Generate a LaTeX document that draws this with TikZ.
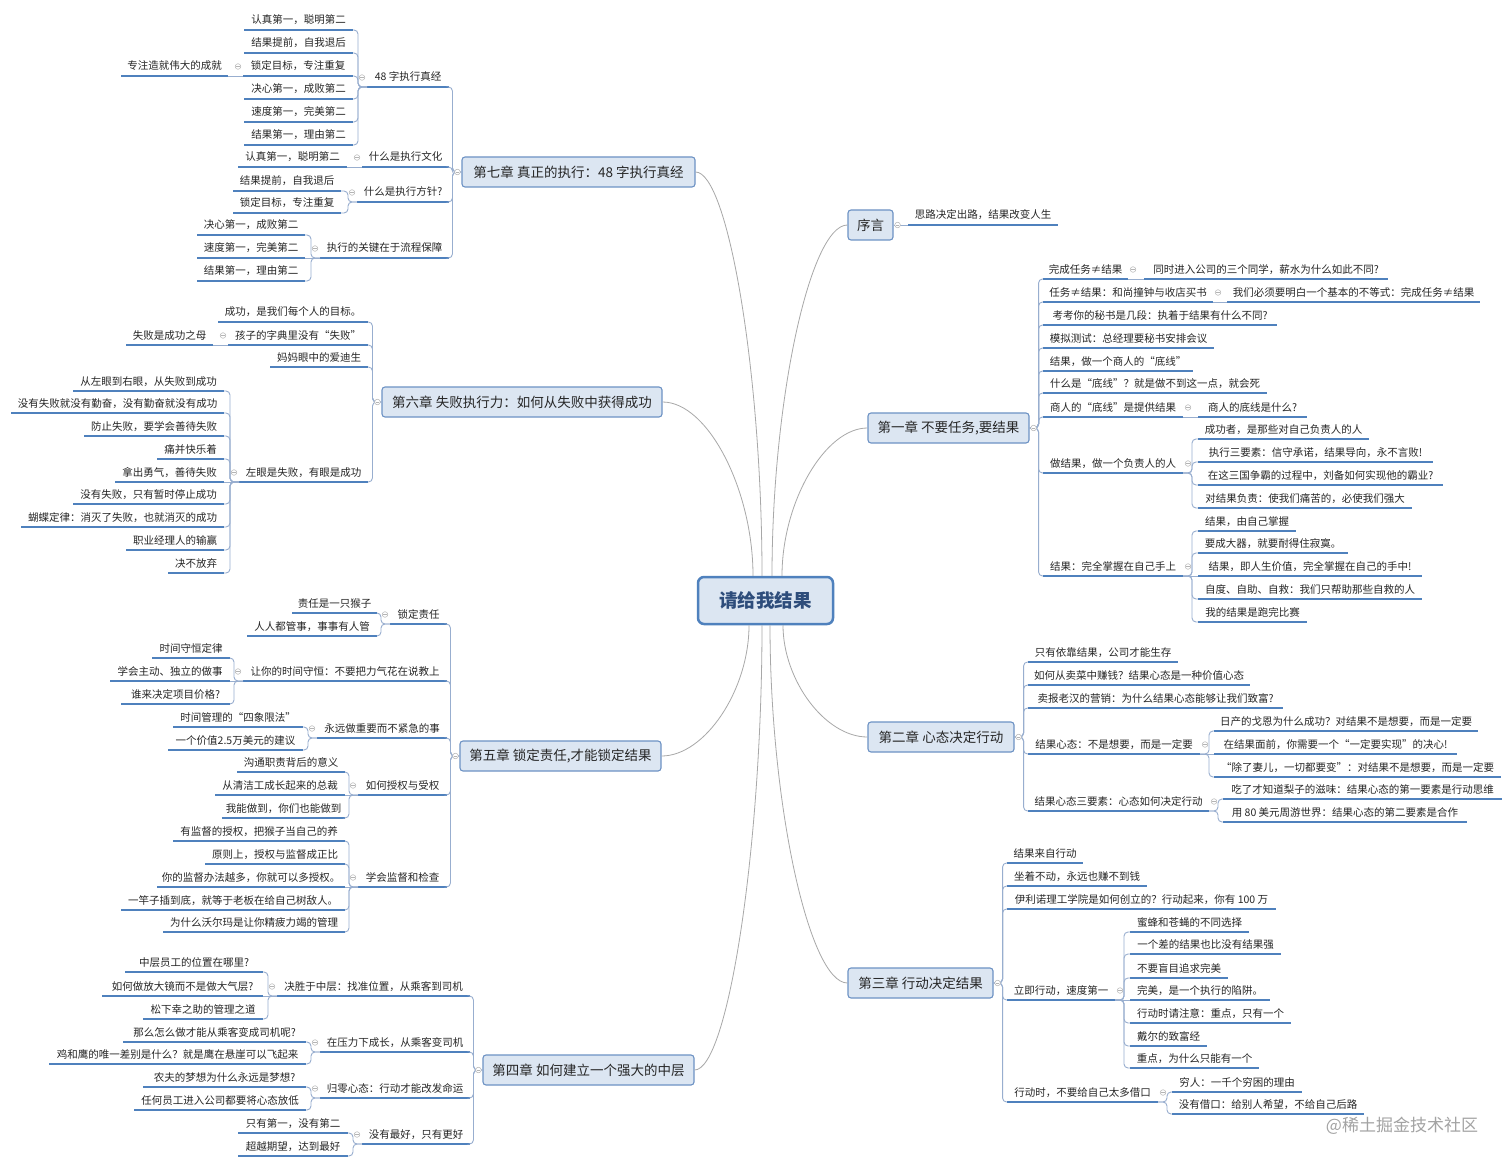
\documentclass[tikz,border=0pt]{standalone}
\usepackage{fontspec}
\setmainfont{Noto Sans CJK SC}
\usetikzlibrary{calc}
\definecolor{ulinec}{HTML}{4F81BD}
\definecolor{connc}{HTML}{98AECF}
\definecolor{mainc}{HTML}{A8A8A8}
\definecolor{boxfill}{HTML}{DCE6F2}
\definecolor{boxdraw}{HTML}{6D92C4}
\definecolor{rootdraw}{HTML}{4F81BD}
\definecolor{roottext}{HTML}{2E4D7B}
\definecolor{txt}{HTML}{262626}
\definecolor{collc}{HTML}{B4B4B4}
\definecolor{wmc}{HTML}{A3A3A3}
\newcommand\leaffont{\fontsize{10.5}{12}\selectfont}
\newcommand\chapfont{\fontsize{13.5}{16}\selectfont}
\newcommand\rootfont{\fontsize{18.5}{22}\selectfont\bfseries}
\tikzset{
  leaf/.style={font=\leaffont, text=txt, inner xsep=4pt, inner ysep=4.5pt,
    text height=8.5pt, text depth=1.5pt, outer sep=0pt, anchor=south},
  uline/.style={draw=ulinec, line width=1.5pt},
  chap/.style={draw=boxdraw, fill=boxfill, line width=1.1pt, rounded corners=3pt,
    minimum height=30pt, inner xsep=6pt, font=\chapfont, text=txt},
  rootbox/.style={draw=rootdraw, fill=boxfill, line width=2.5pt, rounded corners=6pt,
    minimum width=135pt, minimum height=47pt, font=\rootfont, text=roottext},
  conn/.style={draw=connc, line width=0.9pt, rounded corners=4pt},
  mainline/.style={draw=mainc, line width=0.8pt},
  coll/.style={draw=collc, fill=white, line width=0.5pt},
  collm/.style={draw=collc, line width=0.5pt},
  wmark/.style={font=\fontsize{17}{20}\selectfont, text=wmc}
}
\newcommand\mmleaf[5]{%
  \pgfmathsetmacro\mmlw{#3-#2}%
  \pgfmathsetmacro\mmlx{(#2+#3)/2}%
  \node[leaf, minimum width=\mmlw pt] (#1) at (\mmlx,#4) {#5};
  \draw[uline] (#1.south west) -- (#1.south east);
}
\newcommand\mmchap[5]{%
  \pgfmathsetmacro\mmlw{#3-#2}%
  \pgfmathsetmacro\mmlx{(#2+#3)/2}%
  \node[chap, minimum width=\mmlw pt] (#1) at (\mmlx,#4) {#5};
}
\newcommand\mmkl[2]{\draw[conn] (#2.south east) -| ([xshift=-9pt]#1) -- (#1);}
\newcommand\mmkr[2]{\draw[conn] (#2.south west) -| ([xshift=9pt]#1) -- (#1);}
\newcommand\mmks[2]{\draw[conn] (#2) -- (#1);}
\newcommand\mmol[2]{\draw[coll] ([xshift=-#2]#1.west) circle[radius=2.8pt];
  \draw[collm] ([xshift=-#2-1.6pt]#1.west) -- ([xshift=-#2+1.6pt]#1.west);}
\newcommand\mmor[2]{\draw[coll] ([xshift=#2]#1.east) circle[radius=2.8pt];
  \draw[collm] ([xshift=#2-1.6pt]#1.east) -- ([xshift=#2+1.6pt]#1.east);}
\begin{document}
\begin{tikzpicture}[x=1pt,y=-1pt]
\useasboundingbox (0,0) rectangle (1512,1166);
\fill[white] (0,0) rectangle (1512,1166);

% root
\node[rootbox] (root) at (765.5,600.5) {请给我结果};

% chapters
\mmchap{ch7}{462}{695}{172}{第七章 真正的执行：48 字执行真经}
\mmchap{ch6}{382}{662}{402}{第六章 失败执行力：如何从失败中获得成功}
\mmchap{ch5}{460}{661}{756}{第五章 锁定责任,才能锁定结果}
\mmchap{ch4}{483}{694}{1070}{第四章 如何建立一个强大的中层}
\mmchap{ch0}{848}{893}{225}{序言}
\mmchap{ch1}{868}{1029}{428}{第一章 不要任务,要结果}
\mmchap{ch2}{868}{1014}{737}{第二章 心态决定行动}
\mmchap{ch3}{848}{993}{983}{第三章 行动决定结果}

% chapter 7
\mmleaf{a1}{367}{449}{87}{48 字执行真经}
\mmleaf{a11}{244}{353}{30}{认真第一，聪明第二}
\mmleaf{a12}{244}{353}{53}{结果提前，自我退后}
\mmleaf{a13}{243}{353}{76}{锁定目标，专注重复}
\mmleaf{a131}{121}{228}{76}{专注造就伟大的成就}
\mmleaf{a14}{244}{353}{99}{决心第一，成败第二}
\mmleaf{a15}{244}{353}{122}{速度第一，完美第二}
\mmleaf{a16}{244}{353}{145}{结果第一，理由第二}
\mmleaf{a2}{362}{449}{167}{什么是执行文化}
\mmleaf{a21}{238}{347}{167}{认真第一，聪明第二}
\mmleaf{a3}{357}{449}{202}{什么是执行方针?}
\mmleaf{a31}{233}{341}{191}{结果提前，自我退后}
\mmleaf{a32}{233}{341}{213}{锁定目标，专注重复}
\mmleaf{a4}{320}{449}{258}{执行的关键在于流程保障}
\mmleaf{a41}{197}{305}{235}{决心第一，成败第二}
\mmleaf{a42}{197}{305}{258}{速度第一，完美第二}
\mmleaf{a43}{197}{305}{281}{结果第一，理由第二}

% chapter 6
\mmleaf{b1}{218}{368}{322}{成功，是我们每个人的目标。}
\mmleaf{b2}{228}{368}{345}{孩子的字典里没有“失败”}
\mmleaf{b21}{126}{213}{345}{失败是成功之母}
\mmleaf{b3}{270}{368}{367}{妈妈眼中的爱迪生}
\mmleaf{b4}{239}{368}{482}{左眼是失败，有眼是成功}
\mmleaf{b41}{73}{224}{391}{从左眼到右眼，从失败到成功}
\mmleaf{b42}{11}{224}{413}{没有失败就没有勤奋，没有勤奋就没有成功}
\mmleaf{b43}{84}{224}{436}{防止失败，要学会善待失败}
\mmleaf{b44}{157}{224}{459}{痛并快乐着}
\mmleaf{b45}{115}{224}{482}{拿出勇气，善待失败}
\mmleaf{b46}{73}{224}{504}{没有失败，只有暂时停止成功}
\mmleaf{b47}{21}{224}{527}{蝴蝶定律：消灭了失败，也就消灭的成功}
\mmleaf{b48}{126}{224}{550}{职业经理人的输赢}
\mmleaf{b49}{168}{224}{573}{决不放弃}

% chapter 5
\mmleaf{c1}{390}{447}{624}{锁定责任}
\mmleaf{c11}{292}{377}{613}{责任是一只猴子}
\mmleaf{c12}{247}{377}{636}{人人都管事，事事有人管}
\mmleaf{c2}{243}{447}{681}{让你的时间守恒：不要把力气花在说教上}
\mmleaf{c21}{152}{230}{658}{时间守恒定律}
\mmleaf{c22}{110}{230}{681}{学会主动、独立的做事}
\mmleaf{c23}{121}{230}{704}{谁来决定项目价格?}
\mmleaf{c3}{317}{447}{738}{永远做重要而不紧急的事}
\mmleaf{c31}{173}{303}{727}{时间管理的“四象限法”}
\mmleaf{c32}{168}{303}{750}{一个价值2.5万美元的建议}
\mmleaf{c4}{358}{447}{795}{如何授权与受权}
\mmleaf{c41}{237}{345}{772}{沟通职责背后的意义}
\mmleaf{c42}{215}{345}{795}{从清洁工成长起来的总裁}
\mmleaf{c43}{222}{345}{818}{我能做到，你们也能做到}
\mmleaf{c5}{358}{447}{887}{学会监督和检查}
\mmleaf{c51}{173}{345}{841}{有监督的授权，把猴子当自己的养}
\mmleaf{c52}{205}{345}{864}{原则上，授权与监督成正比}
\mmleaf{c53}{157}{345}{887}{你的监督办法越多，你就可以多授权。}
\mmleaf{c54}{121}{345}{910}{一竿子插到底，就等于老板在给自己树敌人。}
\mmleaf{c55}{163}{345}{932}{为什么沃尔玛是让你精疲力竭的管理}

% chapter 4
\mmleaf{d1}{277}{470}{996}{决胜于中层：找准位置，从乘客到司机}
\mmleaf{d11}{125}{263}{972}{中层员工的位置在哪里?}
\mmleaf{d12}{102}{263}{996}{如何做放大镜而不是做大气层?}
\mmleaf{d13}{143}{263}{1019}{松下幸之助的管理之道}
\mmleaf{d2}{320}{470}{1052}{在压力下成长，从乘客变司机}
\mmleaf{d21}{123}{306}{1042}{那么怎么做才能从乘客变成司机呢?}
\mmleaf{d22}{49}{306}{1064}{鸡和鹰的唯一差别是什么？就是鹰在悬崖可以飞起来}
\mmleaf{d3}{320}{470}{1098}{归零心态：行动才能改发命运}
\mmleaf{d31}{143}{306}{1087}{农夫的梦想为什么永远是梦想?}
\mmleaf{d32}{134}{306}{1110}{任何员工进入公司都要将心态放低}
\mmleaf{d4}{362}{470}{1144}{没有最好，只有更好}
\mmleaf{d41}{238}{348}{1133}{只有第一，没有第二}
\mmleaf{d42}{238}{348}{1156}{超越期望，达到最好}

% preface
\mmleaf{e1}{908}{1058}{225}{思路决定出路，结果改变人生}

% chapter 1
\mmleaf{f1}{1043}{1128}{279}{完成任务≠结果}
\mmleaf{f11}{1144}{1388}{279}{同时进入公司的三个同学，薪水为什么如此不同?}
\mmleaf{f2}{1043}{1213}{302}{任务≠结果：和尚撞钟与收店买书}
\mmleaf{f21}{1227}{1480}{302}{我们必须要明白一个基本的不等式：完成任务≠结果}
\mmleaf{f3}{1043}{1277}{325}{考考你的秘书是几段：执着于结果有什么不同?}
\mmleaf{f4}{1043}{1214}{348}{模拟测试：总经理要秘书安排会议}
\mmleaf{f5}{1043}{1193}{371}{结果，做一个商人的“底线”}
\mmleaf{f6}{1043}{1267}{393}{什么是“底线”？就是做不到这一点，就会死}
\mmleaf{f7}{1043}{1183}{417}{商人的“底线”是提供结果}
\mmleaf{f71}{1198}{1307}{417}{商人的底线是什么?}
\mmleaf{f8}{1043}{1183}{473}{做结果，做一个负责人的人}
\mmleaf{f81}{1198}{1369}{439}{成功者，是那些对自己负责人的人}
\mmleaf{f82}{1198}{1433}{462}{执行三要素：信守承诺，结果导向，永不言败!}
\mmleaf{f83}{1198}{1443}{485}{在这三国争霸的过程中，刘备如何实现他的霸业?}
\mmleaf{f84}{1198}{1412}{508}{对结果负责：使我们痛苦的，必使我们强大}
\mmleaf{f9}{1043}{1183}{576}{结果：完全掌握在自己手上}
\mmleaf{f91}{1198}{1296}{531}{结果，由自己掌握}
\mmleaf{f92}{1198}{1348}{553}{要成大器，就要耐得住寂寞。}
\mmleaf{f93}{1198}{1422}{576}{结果，即人生价值，完全掌握在自己的手中!}
\mmleaf{f94}{1198}{1422}{599}{自度、自助、自救：我们只帮助那些自救的人}
\mmleaf{f95}{1198}{1307}{622}{我的结果是跑完比赛}

% chapter 2
\mmleaf{g1}{1028}{1178}{662}{只有依靠结果，公司才能生存}
\mmleaf{g2}{1028}{1250}{685}{如何从卖菜中赚钱？结果心态是一种价值心态}
\mmleaf{g3}{1028}{1283}{708}{卖报老汉的营销：为什么结果心态能够让我们致富?}
\mmleaf{g4}{1028}{1200}{754}{结果心态：不是想要，而是一定要}
\mmleaf{g41}{1214}{1478}{731}{日产的戈恩为什么成功？对结果不是想要，而是一定要}
\mmleaf{g42}{1214}{1457}{754}{在结果面前，你需要一个“一定要实现”的决心!}
\mmleaf{g43}{1214}{1501}{777}{“除了妻儿，一切都要变”：对结果不是想要，而是一定要}
\mmleaf{g5}{1028}{1209}{811}{结果心态三要素：心态如何决定行动}
\mmleaf{g51}{1223}{1502}{799}{吃了才知道梨子的滋味：结果心态的第一要素是行动思维}
\mmleaf{g52}{1223}{1467}{822}{用 80 美元周游世界：结果心态的第二要素是合作}

% chapter 3
\mmleaf{h1}{1007}{1083}{863}{结果来自行动}
\mmleaf{h2}{1007}{1147}{886}{坐着不动，永远也赚不到钱}
\mmleaf{h3}{1007}{1276}{909}{伊利诺理工学院是如何创立的？行动起来，你有 100 万}
\mmleaf{h4}{1007}{1115}{1000}{立即行动，速度第一}
\mmleaf{h41}{1130}{1249}{932}{蜜蜂和苍蝇的不同选择}
\mmleaf{h42}{1130}{1281}{954}{一个差的结果也比没有结果强}
\mmleaf{h43}{1130}{1228}{978}{不要盲目追求完美}
\mmleaf{h44}{1130}{1270}{1000}{完美，是一个执行的陷阱。}
\mmleaf{h45}{1130}{1291}{1023}{行动时请注意：重点，只有一个}
\mmleaf{h46}{1130}{1207}{1046}{戴尔的致富经}
\mmleaf{h47}{1130}{1259}{1068}{重点，为什么只能有一个}
\mmleaf{h5}{1007}{1158}{1102}{行动时，不要给自己太多借口}
\mmleaf{h51}{1172}{1302}{1092}{穷人：一千个穷困的理由}
\mmleaf{h52}{1172}{1364}{1114}{没有借口：给别人希望，不给自己后路}

% watermark
\node[wmark] (wm) at (1402,1126) {@稀土掘金技术社区};

% root to chapters
\draw[mainline] ([xshift=-3.5pt]root.north) .. controls (762,374) and (728,172) .. (ch7.east);
\draw[mainline] ([xshift=-12.5pt]root.north) .. controls (753,490) and (708,402) .. (ch6.east);
\draw[mainline] ([xshift=6.5pt]root.north) .. controls (772,401) and (810,225) .. (ch0.west);
\draw[mainline] ([xshift=16.5pt]root.north) .. controls (782,502) and (825,428) .. (ch1.west);
\draw[mainline] ([xshift=-16.5pt]root.south) .. controls (749,690) and (705,756) .. (ch5.east);
\draw[mainline] ([xshift=-3.5pt]root.south) .. controls (762,847) and (728,1070) .. (ch4.east);
\draw[mainline] ([xshift=4.5pt]root.south) .. controls (770,803) and (809,983) .. (ch3.west);
\draw[mainline] ([xshift=17.5pt]root.south) .. controls (783,680) and (825,737) .. (ch2.west);

% chapter 7 connectors
\foreach \c in {a1,a2,a3,a4} {\mmkl{ch7.west}{\c}}
\foreach \c in {a11,a12,a13,a14,a15,a16} {\mmkl{a1.south west}{\c}}
\mmks{a13.south west}{a131.south east}
\mmks{a2.south west}{a21.south east}
\foreach \c in {a31,a32} {\mmkl{a3.south west}{\c}}
\foreach \c in {a41,a43} {\mmkl{a4.south west}{\c}}
\mmks{a4.south west}{a42.south east}

% chapter 6 connectors
\foreach \c in {b1,b2,b3,b4} {\mmkl{ch6.west}{\c}}
\mmks{b2.south west}{b21.south east}
\foreach \c in {b41,b42,b43,b44,b46,b47,b48,b49} {\mmkl{b4.south west}{\c}}
\mmks{b4.south west}{b45.south east}

% chapter 5 connectors
\foreach \c in {c1,c2,c3,c4,c5} {\mmkl{ch5.west}{\c}}
\foreach \c in {c11,c12} {\mmkl{c1.south west}{\c}}
\foreach \c in {c21,c23} {\mmkl{c2.south west}{\c}}
\mmks{c2.south west}{c22.south east}
\foreach \c in {c31,c32} {\mmkl{c3.south west}{\c}}
\foreach \c in {c41,c43} {\mmkl{c4.south west}{\c}}
\mmks{c4.south west}{c42.south east}
\foreach \c in {c51,c52,c54,c55} {\mmkl{c5.south west}{\c}}
\mmks{c5.south west}{c53.south east}

% chapter 4 connectors
\foreach \c in {d1,d2,d3,d4} {\mmkl{ch4.west}{\c}}
\foreach \c in {d11,d13} {\mmkl{d1.south west}{\c}}
\mmks{d1.south west}{d12.south east}
\foreach \c in {d21,d22} {\mmkl{d2.south west}{\c}}
\foreach \c in {d31,d32} {\mmkl{d3.south west}{\c}}
\foreach \c in {d41,d42} {\mmkl{d4.south west}{\c}}

% preface
\mmks{ch0.east}{e1.south west}

% chapter 1 connectors
\foreach \c in {f1,f2,f3,f4,f5,f6,f7,f8,f9} {\mmkr{ch1.east}{\c}}
\mmks{f1.south east}{f11.south west}
\mmks{f2.south east}{f21.south west}
\mmks{f7.south east}{f71.south west}
\foreach \c in {f81,f82,f83,f84} {\mmkr{f8.south east}{\c}}
\foreach \c in {f91,f92,f94,f95} {\mmkr{f9.south east}{\c}}
\mmks{f9.south east}{f93.south west}

% chapter 2 connectors
\foreach \c in {g1,g2,g3,g4,g5} {\mmkr{ch2.east}{\c}}
\foreach \c in {g41,g43} {\mmkr{g4.south east}{\c}}
\mmks{g4.south east}{g42.south west}
\foreach \c in {g51,g52} {\mmkr{g5.south east}{\c}}

% chapter 3 connectors
\foreach \c in {h1,h2,h3,h4,h5} {\mmkr{ch3.east}{\c}}
\foreach \c in {h41,h42,h43,h45,h46,h47} {\mmkr{h4.south east}{\c}}
\mmks{h4.south east}{h44.south west}
\foreach \c in {h51,h52} {\mmkr{h5.south east}{\c}}

% collapse markers
\foreach \n in {ch7,ch6,ch5,ch4} {\mmol{\n}{4pt}}
\foreach \n in {a1,a13,a2,a3,a4,b2,b4,c1,c2,c3,c4,c5,d1,d2,d3,d4} {\mmol{\n}{5pt}}
\foreach \n in {ch0,ch1,ch2,ch3} {\mmor{\n}{4pt}}
\foreach \n in {f1,f2,f7,f8,f9,g4,g5,h4,h5} {\mmor{\n}{5pt}}
\end{tikzpicture}
\end{document}
